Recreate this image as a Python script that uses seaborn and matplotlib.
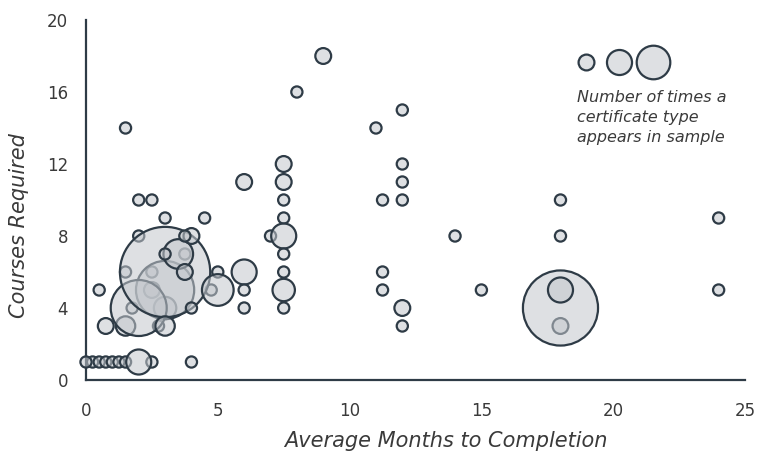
import numpy as np
import pandas as pd
import matplotlib
matplotlib.use("Agg")
import matplotlib.pyplot as plt
from matplotlib.lines import Line2D
import seaborn as sns

# === Data ===
# drawn in this order: faded ones first, then the big bubbles, then the rest on top
months = [18, 2, 1.5, 2.5, 1.75, 1.5, 2.75, 3, 2.5, 3.75, 4.75, 7,
          0.25, 0.5, 0.75, 1, 1.25, 1.5, 2.5,
          3, 2, 3, 18,
          18, 0, 2, 4, 3.5, 4, 3.75, 3, 3.75, 5, 5, 4, 3, 0.75, 0.5,
          2, 2.5, 3, 4.5, 1.5, 6, 6, 6, 6,
          7.5, 7.5, 7.5, 7.5, 7.5, 7.5, 7.5, 7.5, 7.5,
          9, 8, 11, 12, 12, 12, 12, 11.25, 11.25, 11.25, 12, 12,
          14, 15, 18, 18, 24, 24]
courses = [3, 8, 6, 6, 4, 3, 3, 4, 5, 7, 5, 8,
           1, 1, 1, 1, 1, 1, 1,
           5, 4, 6, 4,
           5, 1, 1, 1, 7, 8, 8, 7, 6, 6, 5, 4, 3, 3, 5,
           10, 10, 9, 9, 14, 11, 6, 5, 4,
           12, 11, 10, 9, 8, 7, 6, 5, 4,
           18, 16, 14, 15, 12, 11, 10, 10, 6, 5, 4, 3,
           8, 5, 10, 8, 9, 5]
counts = [2, 1, 1, 1, 1, 3, 1, 4, 2, 1, 1, 1,
          1, 1, 1, 1, 1, 1, 1,
          27, 25, 65, 45,
          5, 1, 5, 1, 7, 2, 1, 1, 2, 1, 8, 1, 3, 2, 1,
          1, 1, 1, 1, 1, 2, 5, 1, 1,
          2, 2, 1, 1, 5, 1, 1, 4, 1,
          2, 1, 1, 1, 1, 1, 1, 1, 1, 1, 2, 1,
          1, 1, 1, 1, 1, 1]

legend_counts = [2, 5, 9]
legend_text = "Number of times a\ncertificate type\nappears in sample"

S_PER_COUNT = 65  # marker area (pt^2) per certificate

df = pd.DataFrame({"months": months, "courses": courses, "count": counts})

EDGE = "#2e3b46"
FACE = (0.765, 0.780, 0.800, 0.55)
TEXT = "#3a3a3a"

sns.set_theme(style="white")
plt.rcParams["font.family"] = ["DejaVu Sans"]

fig, ax = plt.subplots(figsize=(7.61, 4.54), dpi=100)
fig.subplots_adjust(left=86 / 761, right=745 / 761, bottom=74 / 454, top=434 / 454)

cmax = df["count"].max()
sns.scatterplot(
    data=df, x="months", y="courses", size="count",
    sizes=(0, S_PER_COUNT * cmax), size_norm=(0, cmax),
    facecolor=FACE, edgecolor=EDGE, linewidth=1.6,
    legend=False, clip_on=False, zorder=3, ax=ax,
)
ax.collections[0].set_facecolor(FACE)

ax.set_xlim(0, 25)
ax.set_ylim(0, 20)
ax.set_xticks([0, 5, 10, 15, 20, 25])
ax.set_yticks([0, 4, 8, 12, 16, 20])
ax.tick_params(length=0, labelsize=12, colors=TEXT)
ax.tick_params(axis="x", pad=16)
ax.tick_params(axis="y", pad=13)

sns.despine(ax=ax)
for side in ["left", "bottom"]:
    ax.spines[side].set_color(EDGE)
    ax.spines[side].set_linewidth(1.6)

ax.set_xlabel("Average Months to Completion", fontsize=15, style="italic",
              color=TEXT)
ax.set_ylabel("Courses Required", fontsize=15, style="italic", color=TEXT)
ax.xaxis.set_label_coords((446 - 86) / 659, -0.142)
ax.yaxis.set_label_coords(-0.087, (380 - 226) / 360)

# size key
handles = [
    Line2D([], [], ls="", marker="o", markersize=np.sqrt(S_PER_COUNT * c),
           markerfacecolor=FACE, markeredgecolor=EDGE, markeredgewidth=1.6)
    for c in legend_counts
]
ax.legend(handles, ["", "", ""], ncol=3, frameon=False, fontsize=10,
          handlelength=1.5, handletextpad=0, columnspacing=0.9, borderpad=0,
          borderaxespad=0, loc="center left", bbox_to_anchor=(0.743, 0.88))
ax.text(0.745, 0.805, legend_text, transform=ax.transAxes, ha="left", va="top",
        fontsize=11.5, style="italic", color=TEXT, linespacing=1.42)

plt.savefig("out.png", dpi=100)
